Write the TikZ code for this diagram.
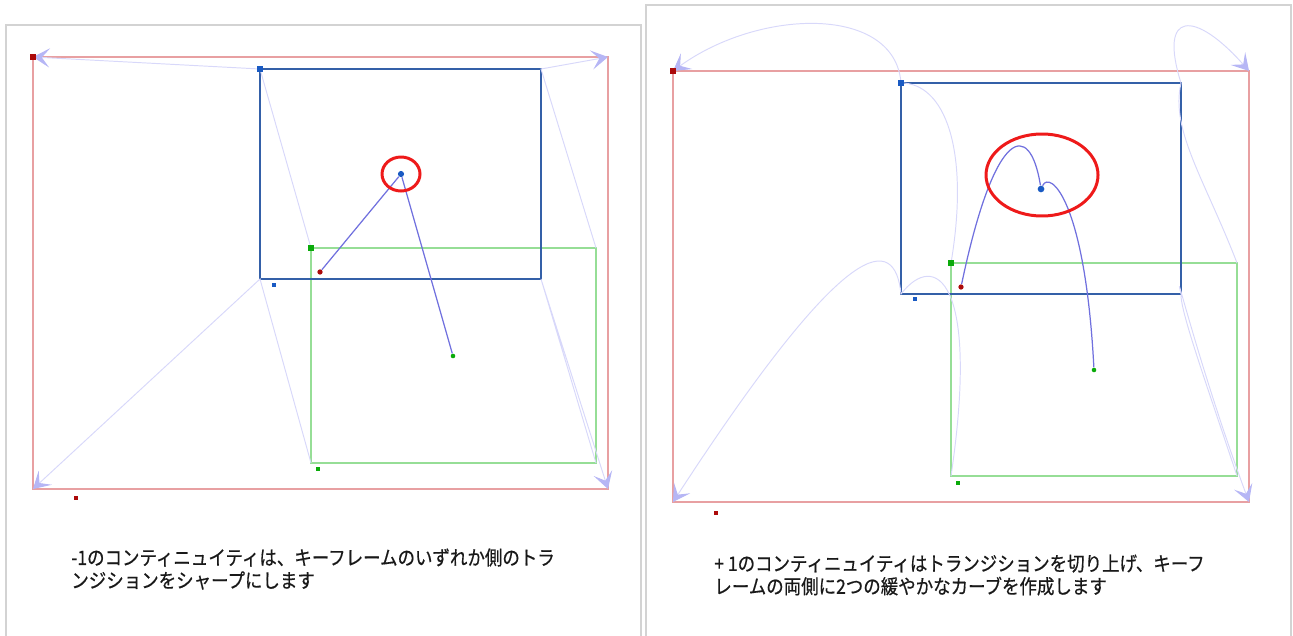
\documentclass[tikz,border=0pt]{standalone}
\usepackage[dvipsnames]{xcolor}
\usepackage{fontspec}
\newfontfamily\jpfont[FakeStretch=0.88,FakeBold=0.6]{Noto Sans CJK JP}
\usetikzlibrary{arrows.meta}
\definecolor{panelgray}{RGB}{211,211,211}
\definecolor{framered}{RGB}{232,160,162}
\definecolor{frameblue}{RGB}{52,96,168}
\definecolor{framegreen}{RGB}{150,222,150}
\definecolor{trailblue}{RGB}{216,216,250}
\definecolor{tipblue}{RGB}{182,182,245}
\definecolor{tweenblue}{RGB}{112,112,222}
\definecolor{ringred}{RGB}{238,26,26}
\definecolor{dotred}{RGB}{172,10,10}
\definecolor{dotblue}{RGB}{25,90,195}
\definecolor{dotgreen}{RGB}{10,170,10}

\begin{document}
\begin{tikzpicture}[x=0.02cm,y=-0.02cm]
    \pgfmathsetmacro{\dotsize}{3.3}
    \pgfmathsetmacro{\smalldot}{2.4}
    \tikzset{panel/.style={draw=panelgray,line width=1.2pt},
        redframe/.style={draw=framered,line width=1.1pt},
        blueframe/.style={draw=frameblue,line width=1.1pt},
        greenframe/.style={draw=framegreen,line width=0.85pt},
        keydot/.style={rectangle,inner sep=0pt,minimum size=#1pt},
        pointdot/.style={circle,inner sep=0pt,minimum size=#1pt},
        trail/.style={draw=trailblue,line width=0.55pt,-{Stealth[length=9.5pt,width=11pt,inset=4.5pt,color=tipblue]}},
        tween/.style={draw=tweenblue,line width=0.7pt},
        highlight/.style={draw=ringred,line width=1.7pt},
        notetext/.style={anchor=west,align=left,inner sep=0pt,text=black!90,font=\jpfont\fontsize{11.3}{13}\selectfont}}
    \useasboundingbox (0,0) rectangle (1293,635);
    \draw[panel] (6,640) -- (6,25) -- (641,25) -- (641,640);
    \draw[panel] (646,640) -- (646,5) -- (1291,5) -- (1291,640);
\coordinate (redL0) at (33,57);
\coordinate (redL1) at (608,57);
\coordinate (redL2) at (608,489);
\coordinate (redL3) at (33,489);
\coordinate (blueL0) at (260,69);
\coordinate (blueL1) at (541,69);
\coordinate (blueL2) at (541,279);
\coordinate (blueL3) at (260,279);
\coordinate (greenL0) at (311,248);
\coordinate (greenL1) at (596,248);
\coordinate (greenL2) at (596,463);
\coordinate (greenL3) at (311,463);
\coordinate (redR0) at (673,71);
\coordinate (redR1) at (1249,71);
\coordinate (redR2) at (1249,502);
\coordinate (redR3) at (673,502);
\coordinate (blueR0) at (901,83);
\coordinate (blueR1) at (1181,83);
\coordinate (blueR2) at (1181,294);
\coordinate (blueR3) at (901,294);
\coordinate (greenR0) at (951,263);
\coordinate (greenR1) at (1237,263);
\coordinate (greenR2) at (1237,476);
\coordinate (greenR3) at (951,476);
\draw[redframe] (redL0) rectangle (redL2);
\draw[greenframe] (greenL0) rectangle (greenL2);
\draw[blueframe] (blueL0) rectangle (blueL2);
\draw[redframe] (redR0) rectangle (redR2);
\draw[greenframe] (greenR0) rectangle (greenR2);
\draw[blueframe] (blueR0) rectangle (blueR2);
\draw[trail] (greenL0) -- (blueL0) -- (redL0);
\draw[trail] (greenL1) -- (blueL1) -- (redL1);
\draw[trail] (greenL2) -- (blueL2) -- (redL2);
\draw[trail] (greenL3) -- (blueL3) -- (redL3);
\draw[trail] (greenR0) .. controls (970,150) and (945,83) .. (blueR0) .. controls (895,5) and (760,8) .. (redR0);
\draw[trail] (greenR1) .. controls (1205,180) and (1170,130) .. (blueR1) .. controls (1158,10) and (1195,10) .. (redR1);
\draw[trail] (greenR2) .. controls (1205,380) and (1180,310) .. (blueR2) .. controls (1172,255) and (1200,370) .. (redR2);
\draw[trail] (greenR3) .. controls (980,280) and (935,250) .. (blueR3) .. controls (895,235) and (850,230) .. (redR3);
\node[keydot=\dotsize,fill=dotred] (keyL0) at (redL0) {};
\node[keydot=\smalldot,fill=dotred] (keyL1) at (76,498) {};
\node[keydot=\dotsize,fill=dotblue] (keyL2) at (blueL0) {};
\node[keydot=\smalldot,fill=dotblue] (keyL3) at (274,285) {};
\node[keydot=\dotsize,fill=dotgreen] (keyL4) at (greenL0) {};
\node[keydot=\smalldot,fill=dotgreen] (keyL5) at (318,469) {};
\node[keydot=\dotsize,fill=dotred] (keyR0) at (redR0) {};
\node[keydot=\smalldot,fill=dotred] (keyR1) at (716,513) {};
\node[keydot=\dotsize,fill=dotblue] (keyR2) at (blueR0) {};
\node[keydot=\smalldot,fill=dotblue] (keyR3) at (915,299) {};
\node[keydot=\dotsize,fill=dotgreen] (keyR4) at (greenR0) {};
\node[keydot=\smalldot,fill=dotgreen] (keyR5) at (958,483) {};
\node[pointdot=3.0,fill=dotred] (ptL0) at (320,272) {};
\node[pointdot=3.5,fill=dotblue] (ptL1) at (401,174) {};
\node[pointdot=2.6,fill=dotgreen] (ptL2) at (453,356) {};
\node[pointdot=3.0,fill=dotred] (ptR0) at (961,287) {};
\node[pointdot=3.8,fill=dotblue] (ptR1) at (1041,189) {};
\node[pointdot=2.6,fill=dotgreen] (ptR2) at (1094,370) {};
\draw[tween] (ptL0) -- (ptL1) -- (ptL2);
\draw[tween] (ptR0) .. controls (995,125) and (1030,120) .. (ptR1) .. controls (1050,170) and (1085,200) .. (ptR2);
\draw[highlight] (401,174) ellipse [x radius=19, y radius=17];
\draw[highlight] (1042,175) ellipse [x radius=56, y radius=41];
\node[notetext] (label_L) at (71,569) {-1のコンティニュイティは、キーフレームのいずれか側のトラ\\ンジションをシャープにします};
\node[notetext] (label_R) at (714,575) {+ 1のコンティニュイティはトランジションを切り上げ、キーフ\\レームの両側に2つの緩やかなカーブを作成します};

\end{tikzpicture}
\end{document}
